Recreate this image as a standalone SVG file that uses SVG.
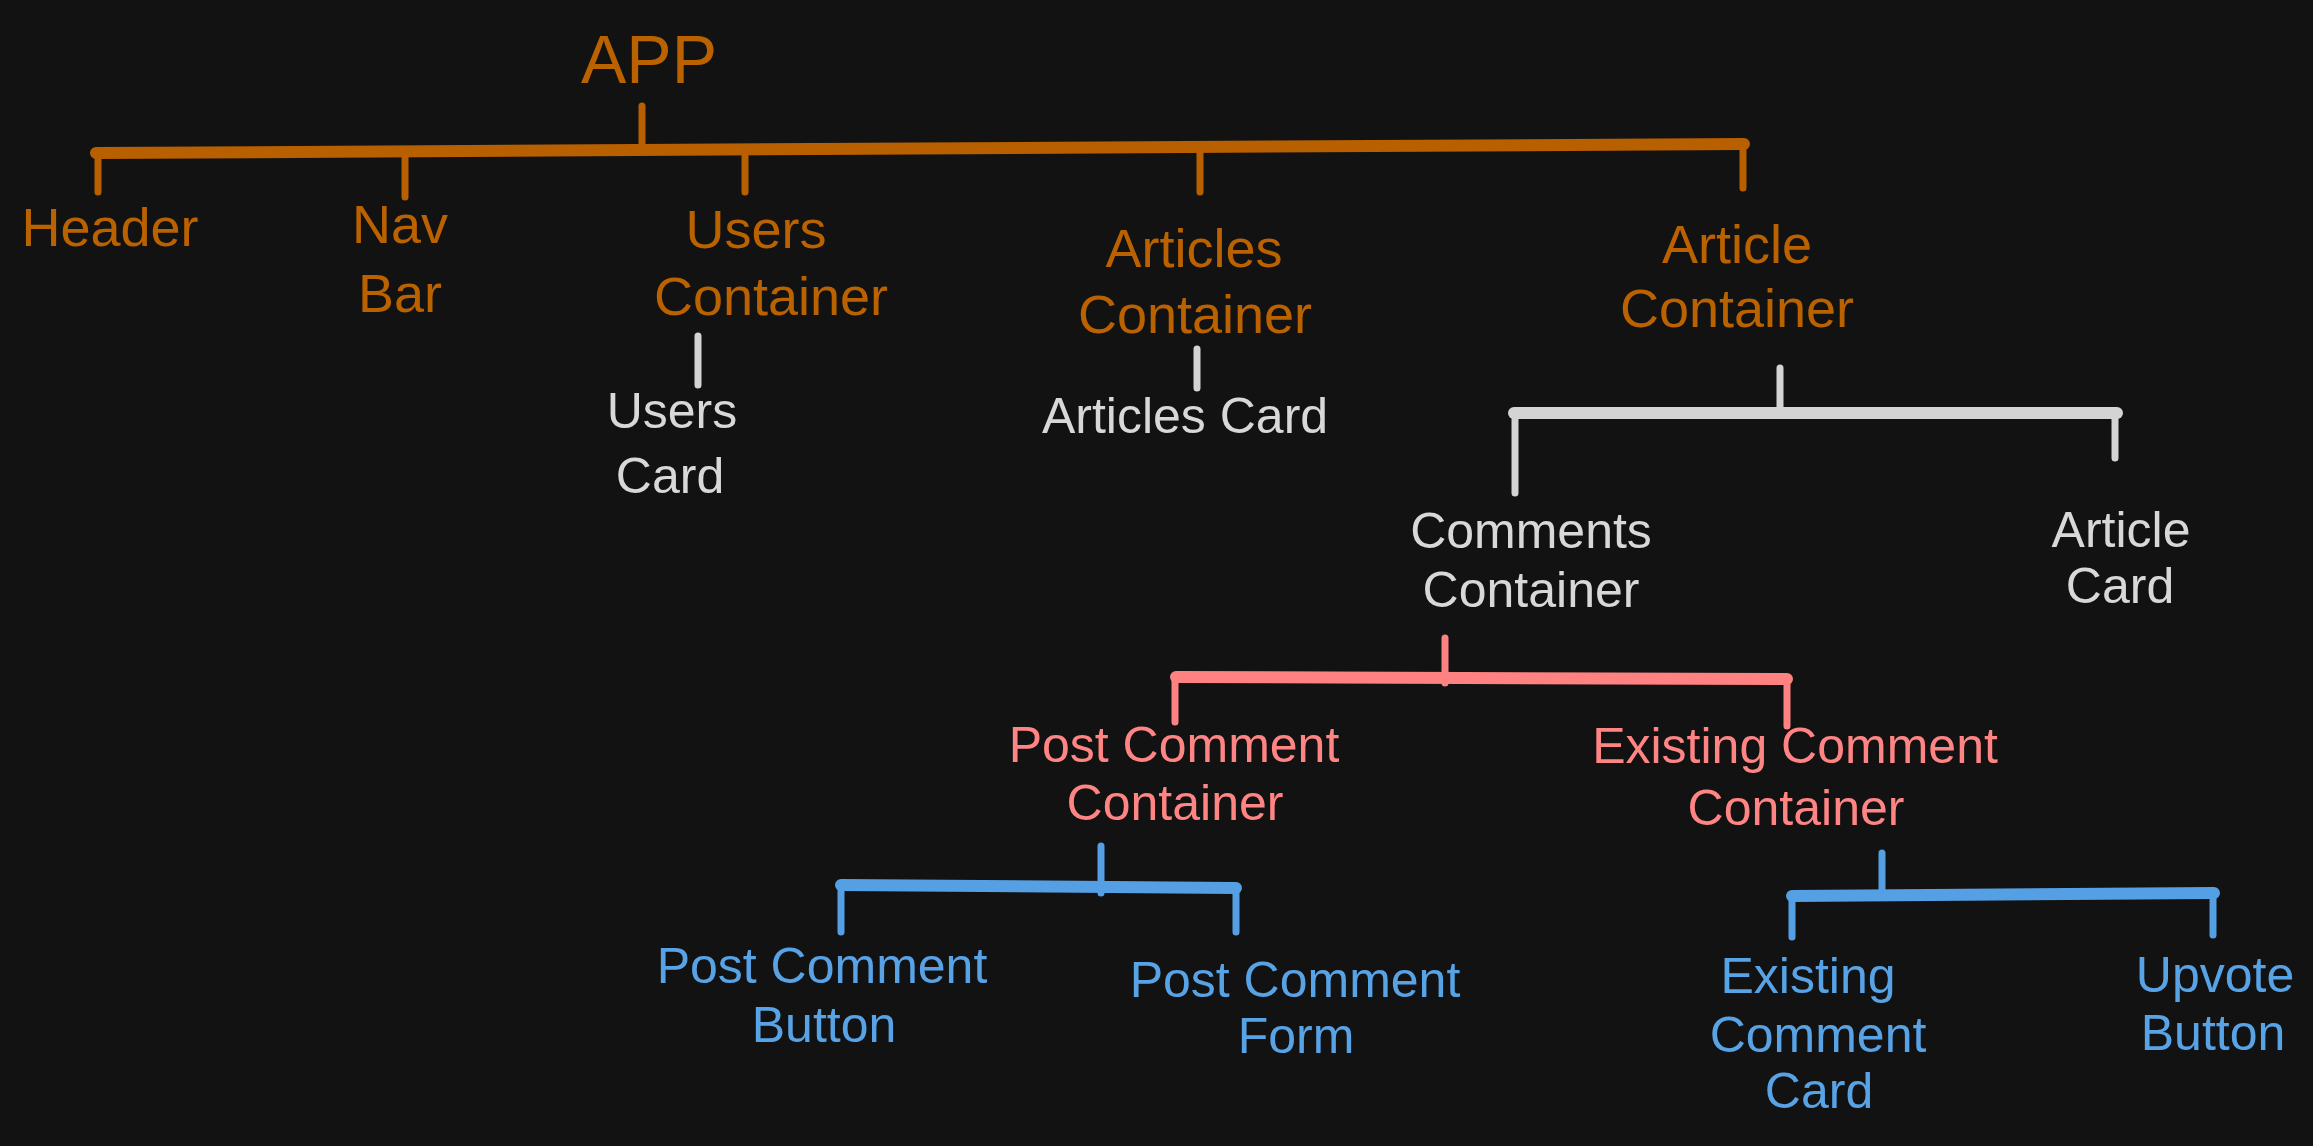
<svg xmlns="http://www.w3.org/2000/svg" width="2313" height="1146" viewBox="0 0 2313 1146">
<style>
text{font-family:"Liberation Sans","DejaVu Sans",sans-serif;text-anchor:middle}
.o{fill:#bb6200;font-size:54px}
.w{fill:#d8d8d8;font-size:50px}
.r{fill:#ff8585;font-size:50px}
.b{fill:#58a3e6;font-size:50px}
.ls{fill:none;stroke-linecap:round;stroke-linejoin:round}
.lo{stroke:#b85f00}
.lw{stroke:#d4d4d4}
.lr{stroke:#ff8282}
.lb{stroke:#55a0e4}
.bar{stroke-width:12}
.stem{stroke-width:7}
</style>
<rect width="2313" height="1146" fill="#121212"/>
<g id="connectors">
<path class="ls lo bar" d="M96 153 L1744 144"/>
<path class="ls lo stem" d="M642 106 L642 146 M98 153 L98 192 M405 152 L405 197 M745 150 L745 192 M1200 148 L1200 192 M1743 144 L1743 188"/>
<path class="ls lw stem" d="M698 336 L698 385 M1197 349 L1197 388"/>
<path class="ls lw bar" d="M1514 413 L2117 413"/>
<path class="ls lw stem" d="M1780 368 L1780 410 M1515 413 L1515 493 M2115 413 L2115 458"/>
<path class="ls lr bar" d="M1176 677 L1787 679"/>
<path class="ls lr stem" d="M1445 638 L1445 683 M1175 677 L1175 722 M1787 679 L1787 726"/>
<path class="ls lb bar" d="M841 885 L1236 888"/>
<path class="ls lb stem" d="M1101 846 L1101 893 M841 885 L841 932 M1236 888 L1236 932"/>
<path class="ls lb bar" d="M1792 896 L2214 893"/>
<path class="ls lb stem" d="M1882 853 L1882 892 M1792 896 L1792 937 M2213 893 L2213 935"/>
</g>
<g id="app"><text class="o" x="649" y="83" style="font-size:68px">APP</text></g>
<g id="header"><text class="o" x="110" y="246">Header</text></g>
<g id="navbar"><text class="o" x="400" y="243">Nav</text><text class="o" x="400" y="312">Bar</text></g>
<g id="users-container"><text class="o" x="756" y="248">Users</text><text class="o" x="771" y="315">Container</text></g>
<g id="articles-container"><text class="o" x="1194" y="267">Articles</text><text class="o" x="1195" y="333">Container</text></g>
<g id="article-container"><text class="o" x="1737" y="263">Article</text><text class="o" x="1737" y="327">Container</text></g>
<g id="users-card"><text class="w" x="672" y="428">Users</text><text class="w" x="670" y="493">Card</text></g>
<g id="articles-card"><text class="w" x="1185" y="433">Articles Card</text></g>
<g id="comments-container"><text class="w" x="1531" y="548">Comments</text><text class="w" x="1531" y="607">Container</text></g>
<g id="article-card"><text class="w" x="2121" y="547">Article</text><text class="w" x="2120" y="603">Card</text></g>
<g id="post-comment-container"><text class="r" x="1174" y="762">Post Comment</text><text class="r" x="1175" y="820">Container</text></g>
<g id="existing-comment-container"><text class="r" x="1795" y="763">Existing Comment</text><text class="r" x="1796" y="825">Container</text></g>
<g id="post-comment-button"><text class="b" x="822" y="983">Post Comment</text><text class="b" x="824" y="1042">Button</text></g>
<g id="post-comment-form"><text class="b" x="1295" y="997">Post Comment</text><text class="b" x="1296" y="1053">Form</text></g>
<g id="existing-comment-card"><text class="b" x="1808" y="993">Existing</text><text class="b" x="1818" y="1052">Comment</text><text class="b" x="1819" y="1108">Card</text></g>
<g id="upvote-button"><text class="b" x="2215" y="992">Upvote</text><text class="b" x="2213" y="1050">Button</text></g>
</svg>
